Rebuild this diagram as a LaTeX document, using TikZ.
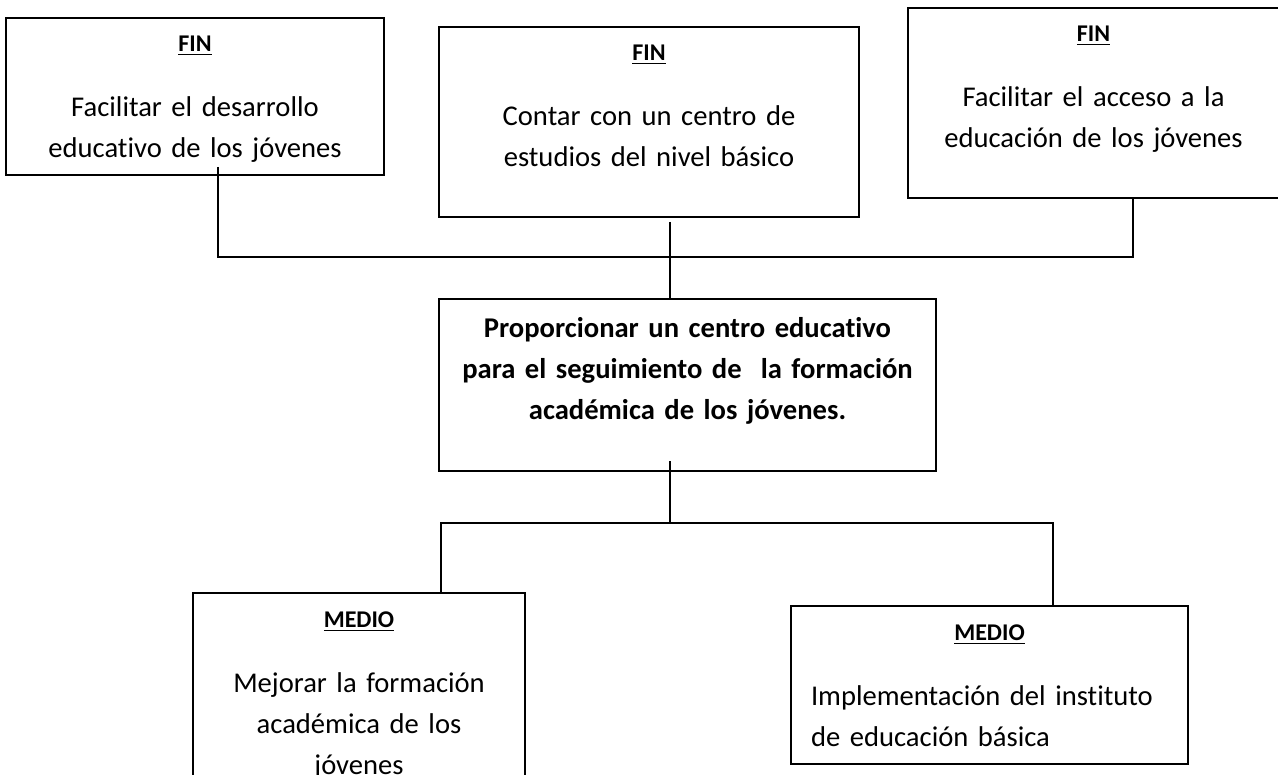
\documentclass[tikz,border=0pt]{standalone}
\usepackage{fontspec}
\setmainfont{Carlito}[Ligatures=NoCommon]
\usetikzlibrary{positioning}
\tikzstyle{caja} = [draw, line width=1pt, inner sep=0pt, align=center, font=\fontsize{14.3}{20.5}\selectfont]
\tikzstyle{conector} = [draw, line width=0.8pt]
\newcommand{\etiqueta}[1]{{\fontsize{12}{14}\selectfont\textbf{\underline{#1}}}}

\begin{document}
\begin{tikzpicture}[x=0.5pt,y=-0.5pt]
        \useasboundingbox (0,0) rectangle (1278,775);
        \node [caja, font=\fontsize{14.3}{20.5}\selectfont\bfseries, text width=248.5pt, text height=19pt, text depth=67pt, anchor=north] (4) at (687.5,298) {Proporcionar un centro educativo\\ para el seguimiento de\ \ la formación\\ académica de los jóvenes.};
        \node [caja, text width=210pt, text height=17pt, text depth=78pt, above = 40pt of 4, xshift=-19.25pt] (2) {\etiqueta{FIN}\\[12pt] Contar con un centro de\\ estudios del nivel básico};
        \node [caja, text width=189pt, text height=17pt, text depth=61.5pt, left = 26.5pt of 2, yshift=12.75pt] (1) {\etiqueta{FIN}\\[12pt] Facilitar el desarrollo\\ educativo de los jóvenes};
        \node [caja, text width=185.5pt, text height=17pt, text depth=78pt, right = 23.5pt of 2, yshift=9.5pt] (3) {\etiqueta{FIN}\\[12pt] Facilitar el acceso a la\\ educación de los jóvenes};
        \node [caja, text width=166pt, text height=17pt, text depth=98pt, below = 60pt of 4, xshift=-164.25pt] (5) {\etiqueta{MEDIO}\\[12pt] Mejorar la formación\\ académica de los\\ jóvenes};
        \node [caja, align=left, inner xsep=10pt, text width=178.5pt, text height=17pt, text depth=62pt, below = 66.5pt of 4, xshift=151pt] (6) {\makebox[\linewidth]{\etiqueta{MEDIO}}\\[12pt] Implementación del instituto\\ de educación básica};
        \coordinate (j1) at (218,257);
        \coordinate (bus1) at (670,257);
        \coordinate (j3) at (1133,257);
        \coordinate (j5) at (441,523);
        \coordinate (bus2) at (670,523);
        \coordinate (j6) at (1053,523);
        \draw [conector] (j1 |- 1.south) ++(0,-9) -- (j1) -- (j3) -- (j3 |- 3.south);
        \draw [conector] (bus1 |- 2.south) ++(0,4) -- (bus1 |- 4.north);
        %\draw [conector] (4) -- (bus2);
        \draw [conector] (bus2 |- 4.south) ++(0,-11) -- (bus2);
        \draw [conector] (j5 |- 5.north) -- (j5) -- (j6) -- (j6 |- 6.north);
\end{tikzpicture}
\end{document}
